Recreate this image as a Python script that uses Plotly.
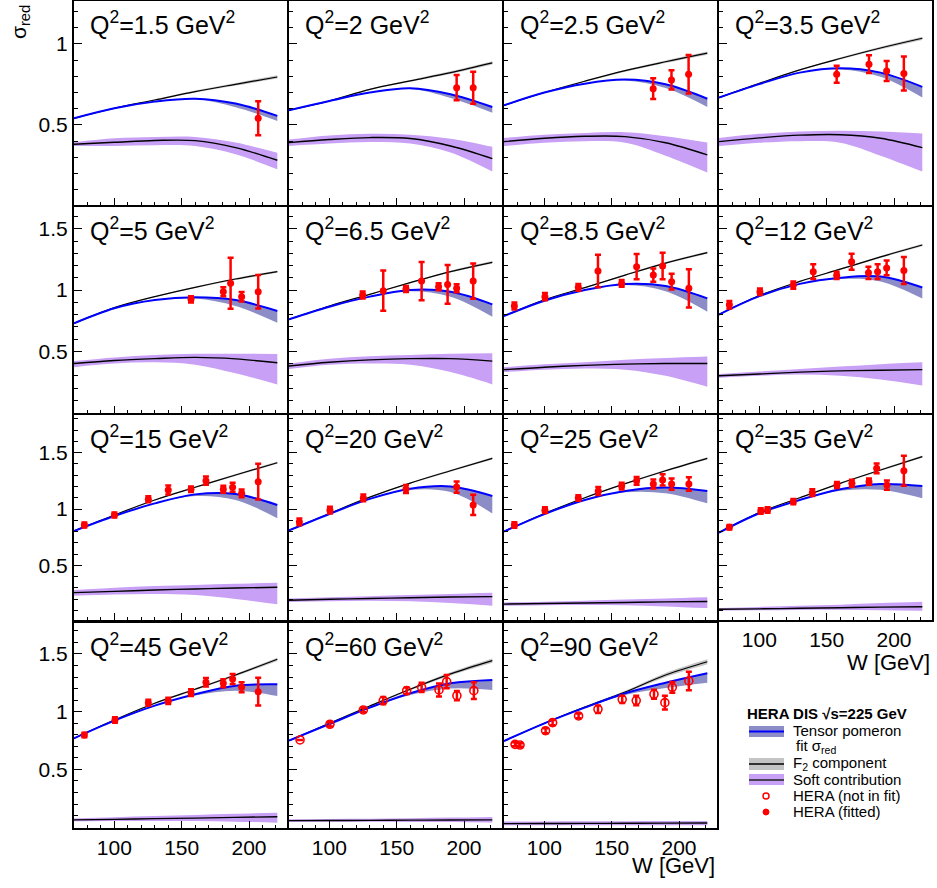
import plotly.graph_objects as go

# ---------------- data ----------------
W_NODES = [70, 100, 130, 160, 190, 221]
Q2_LABELS = ["1.5", "2", "2.5", "3.5", "5", "6.5", "8.5", "12",
             "15", "20", "25", "35", "45", "60", "90"]

# Tensor pomeron fit (blue line) and lower edge of its band
FIT = [
    [0.541, 0.603, 0.644, 0.662, 0.632, 0.556],
    [0.591, 0.648, 0.700, 0.727, 0.690, 0.611],
    [0.621, 0.700, 0.755, 0.780, 0.751, 0.662],
    [0.669, 0.752, 0.823, 0.850, 0.823, 0.735],
    [0.728, 0.851, 0.918, 0.940, 0.918, 0.829],
    [0.761, 0.864, 0.946, 1.000, 0.986, 0.883],
    [0.788, 0.913, 1.000, 1.049, 1.033, 0.932],
    [0.800, 0.950, 1.050, 1.100, 1.110, 1.020],
    [0.805, 0.938, 1.050, 1.130, 1.133, 1.036],
    [0.810, 0.956, 1.090, 1.180, 1.200, 1.115],
    [0.800, 0.955, 1.080, 1.160, 1.190, 1.160],
    [0.790, 0.962, 1.080, 1.175, 1.222, 1.204],
    [0.769, 0.922, 1.052, 1.151, 1.225, 1.237],
    [0.749, 0.893, 1.035, 1.159, 1.246, 1.275],
    [0.746, 0.899, 1.035, 1.159, 1.251, 1.333],
]
FIT_LO = [
    [0.541, 0.603, 0.643, 0.658, 0.610, 0.525],
    [0.591, 0.648, 0.699, 0.722, 0.667, 0.576],
    [0.621, 0.700, 0.754, 0.775, 0.728, 0.611],
    [0.669, 0.752, 0.822, 0.843, 0.797, 0.669],
    [0.728, 0.851, 0.916, 0.930, 0.869, 0.733],
    [0.761, 0.864, 0.944, 0.990, 0.946, 0.782],
    [0.788, 0.913, 0.998, 1.040, 0.990, 0.823],
    [0.800, 0.950, 1.048, 1.090, 1.070, 0.930],
    [0.805, 0.938, 1.048, 1.115, 1.080, 0.917],
    [0.810, 0.956, 1.088, 1.170, 1.150, 0.960],
    [0.800, 0.955, 1.078, 1.148, 1.140, 1.050],
    [0.790, 0.962, 1.078, 1.162, 1.170, 1.095],
    [0.769, 0.922, 1.050, 1.140, 1.182, 1.136],
    [0.749, 0.893, 1.032, 1.145, 1.200, 1.188],
    [0.746, 0.899, 1.032, 1.145, 1.205, 1.251],
]
# F2 component (black line) and half width of its grey band
F2 = [
    [0.541, 0.603, 0.654, 0.706, 0.751, 0.796],
    [0.591, 0.648, 0.720, 0.772, 0.823, 0.883],
    [0.621, 0.700, 0.770, 0.835, 0.890, 0.943],
    [0.669, 0.757, 0.840, 0.910, 0.975, 1.035],
    [0.728, 0.856, 0.946, 1.022, 1.090, 1.150],
    [0.761, 0.870, 0.965, 1.060, 1.150, 1.226],
    [0.788, 0.920, 1.019, 1.122, 1.220, 1.305],
    [0.800, 0.955, 1.070, 1.170, 1.270, 1.367],
    [0.805, 0.947, 1.080, 1.193, 1.302, 1.411],
    [0.810, 0.960, 1.105, 1.230, 1.340, 1.450],
    [0.800, 0.960, 1.100, 1.225, 1.340, 1.450],
    [0.790, 0.968, 1.100, 1.228, 1.346, 1.465],
    [0.769, 0.928, 1.073, 1.194, 1.318, 1.454],
    [0.749, 0.899, 1.049, 1.194, 1.327, 1.442],
    [0.746, 0.900, 1.040, 1.170, 1.318, 1.433],
]
F2_HW = [[0.002, 0.003, 0.004, 0.006, 0.008, 0.010]] * 12 + [
    [0.002, 0.004, 0.006, 0.008, 0.011, 0.014],
    [0.003, 0.005, 0.007, 0.010, 0.014, 0.018],
    [0.003, 0.005, 0.008, 0.012, 0.018, 0.022],
]
# Soft contribution (black line) with its purple band
SOFT = [
    [0.381, 0.393, 0.404, 0.403, 0.360, 0.282],
    [0.391, 0.410, 0.422, 0.416, 0.370, 0.292],
    [0.397, 0.418, 0.430, 0.428, 0.390, 0.315],
    [0.397, 0.420, 0.437, 0.440, 0.418, 0.360],
    [0.400, 0.425, 0.440, 0.450, 0.438, 0.406],
    [0.380, 0.410, 0.430, 0.440, 0.440, 0.420],
    [0.350, 0.370, 0.385, 0.395, 0.400, 0.400],
    [0.300, 0.315, 0.330, 0.340, 0.345, 0.350],
    [0.257, 0.268, 0.280, 0.290, 0.298, 0.305],
    [0.190, 0.198, 0.205, 0.212, 0.218, 0.222],
    [0.155, 0.160, 0.165, 0.170, 0.175, 0.178],
    [0.109, 0.113, 0.118, 0.123, 0.128, 0.132],
    [0.062, 0.067, 0.073, 0.078, 0.084, 0.090],
    [0.056, 0.057, 0.058, 0.060, 0.061, 0.062],
    [0.030, 0.031, 0.032, 0.033, 0.034, 0.035],
]
SOFT_LO = [
    [0.370, 0.370, 0.375, 0.370, 0.319, 0.226],
    [0.370, 0.385, 0.395, 0.385, 0.330, 0.212],
    [0.370, 0.390, 0.400, 0.390, 0.310, 0.206],
    [0.370, 0.390, 0.400, 0.390, 0.310, 0.212],
    [0.370, 0.400, 0.410, 0.390, 0.320, 0.230],
    [0.355, 0.390, 0.400, 0.390, 0.330, 0.230],
    [0.330, 0.350, 0.360, 0.350, 0.300, 0.210],
    [0.285, 0.300, 0.310, 0.300, 0.270, 0.220],
    [0.230, 0.240, 0.245, 0.235, 0.200, 0.153],
    [0.175, 0.180, 0.185, 0.180, 0.165, 0.140],
    [0.140, 0.145, 0.148, 0.145, 0.135, 0.120],
    [0.098, 0.100, 0.103, 0.105, 0.100, 0.097],
    [0.050, 0.052, 0.053, 0.052, 0.047, 0.038],
    [0.045, 0.046, 0.046, 0.045, 0.043, 0.040],
    [0.015, 0.016, 0.016, 0.016, 0.016, 0.016],
]
SOFT_HI = [
    [0.394, 0.418, 0.426, 0.426, 0.391, 0.329],
    [0.410, 0.435, 0.445, 0.440, 0.415, 0.365],
    [0.420, 0.440, 0.450, 0.455, 0.430, 0.391],
    [0.420, 0.445, 0.460, 0.465, 0.460, 0.447],
    [0.420, 0.450, 0.470, 0.480, 0.480, 0.478],
    [0.400, 0.440, 0.460, 0.470, 0.480, 0.484],
    [0.370, 0.395, 0.410, 0.430, 0.445, 0.457],
    [0.315, 0.335, 0.355, 0.375, 0.395, 0.410],
    [0.280, 0.300, 0.315, 0.325, 0.335, 0.345],
    [0.205, 0.215, 0.225, 0.235, 0.245, 0.255],
    [0.170, 0.177, 0.185, 0.195, 0.205, 0.215],
    [0.120, 0.130, 0.140, 0.150, 0.165, 0.177],
    [0.075, 0.085, 0.095, 0.105, 0.115, 0.125],
    [0.067, 0.070, 0.072, 0.076, 0.082, 0.088],
    [0.048, 0.049, 0.050, 0.051, 0.052, 0.053],
]
# HERA measurements
DATA_W = [
    [206.8],
    [194.5, 206.8],
    [180.8, 194.4, 207.1],
    [157.4, 181.4, 194.5, 207.3],
    [156.9, 180.9, 186.3, 194.5, 206.8],
    [124.7, 140.0, 156.9, 168.5, 181.1, 187.8, 194.5, 206.8],
    [77.7, 100.4, 125.2, 139.8, 157.4, 168.5, 180.9, 187.8, 194.5, 207.3],
    [77.7, 100.4, 125.2, 140.0, 157.4, 168.5, 181.0, 187.8, 194.5, 207.3],
    [77.7, 100.0, 125.2, 140.0, 156.9, 168.0, 180.9, 187.8, 194.5, 206.8],
    [77.7, 100.4, 125.2, 156.9, 194.5, 206.8],
    [77.7, 100.4, 125.2, 140.0, 157.4, 168.5, 180.9, 187.8, 194.5, 207.3],
    [77.7, 101.0, 106.1, 125.2, 139.3, 157.6, 168.7, 181.4, 187.1, 194.7, 207.3],
    [77.7, 100.4, 125.2, 140.0, 156.9, 168.0, 180.9, 187.8, 194.5, 206.8],
    [78.2, 100.4, 125.2, 140.0, 157.4, 168.5, 181.4, 187.1, 194.7, 207.3],
    [78.2, 81.9, 100.9, 106.1, 125.4, 139.8, 157.8, 168.2, 181.4, 189.5, 195.0, 207.3],
]
DATA_S = [
    [0.541],
    [0.730, 0.730],
    [0.724, 0.778, 0.813],
    [0.813, 0.875, 0.833, 0.817],
    [0.924, 0.986, 1.055, 0.945, 0.986],
    [0.959, 0.995, 1.008, 1.073, 1.027, 1.046, 1.014, 1.073],
    [0.870, 0.946, 1.022, 1.155, 1.054, 1.190, 1.122, 1.196, 1.068, 1.014],
    [0.880, 0.986, 1.040, 1.150, 1.120, 1.230, 1.140, 1.150, 1.180, 1.160],
    [0.858, 0.947, 1.086, 1.169, 1.175, 1.252, 1.175, 1.193, 1.139, 1.243],
    [0.885, 0.990, 1.098, 1.178, 1.195, 1.036],
    [0.858, 0.990, 1.098, 1.160, 1.204, 1.250, 1.222, 1.258, 1.222, 1.222],
    [0.837, 0.982, 0.991, 1.065, 1.145, 1.213, 1.228, 1.243, 1.361, 1.213, 1.340],
    [0.798, 0.928, 1.078, 1.093, 1.165, 1.255, 1.246, 1.283, 1.211, 1.173],
    [0.755, 0.891, 1.015, 1.096, 1.182, 1.211, 1.188, 1.260, 1.139, 1.182],
    [0.717, 0.711, 0.835, 0.905, 0.963, 1.021, 1.107, 1.096, 1.151, 1.078, 1.211, 1.266],
]
DATA_E = [
    [0.105],
    [0.078, 0.099],
    [0.064, 0.059, 0.119],
    [0.053, 0.055, 0.062, 0.105],
    [0.025, 0.036, 0.208, 0.038, 0.136],
    [0.029, 0.164, 0.025, 0.156, 0.029, 0.159, 0.033, 0.144],
    [0.029, 0.029, 0.027, 0.132, 0.027, 0.103, 0.054, 0.109, 0.064, 0.156],
    [0.030, 0.027, 0.030, 0.060, 0.030, 0.065, 0.050, 0.060, 0.060, 0.110],
    [0.023, 0.023, 0.027, 0.040, 0.025, 0.036, 0.031, 0.040, 0.034, 0.158],
    [0.030, 0.030, 0.030, 0.035, 0.050, 0.090],
    [0.025, 0.025, 0.025, 0.035, 0.030, 0.035, 0.040, 0.050, 0.050, 0.060],
    [0.020, 0.024, 0.024, 0.023, 0.030, 0.027, 0.031, 0.028, 0.043, 0.041, 0.133],
    [0.020, 0.023, 0.026, 0.027, 0.030, 0.037, 0.034, 0.043, 0.043, 0.120],
    [0.000, 0.019, 0.019, 0.032, 0.028, 0.040, 0.056, 0.058, 0.041, 0.072],
    [0.017, 0.015, 0.022, 0.022, 0.021, 0.032, 0.031, 0.041, 0.040, 0.060, 0.046, 0.081],
]
IN_FIT = [True, True, True, True, True, True, True, True,
          True, True, True, True, True, False, False]

X_TICKS = [100, 150, 200]
Y_TICKS_ROW = [[0.5, 1], [0.5, 1, 1.5], [0.5, 1, 1.5], [0.5, 1, 1.5]]

# ---------------- style / layout ----------------
FW, FH = 937, 888
COL_LEFT = [74, 289, 504, 719]
PANEL_W = 213
ROW_TOP = [1, 207.3, 415, 622.7]
ROW_BOT = [205, 413.3, 620, 828]
Y_RANGE_ROW = [[0.006, 1.265], [-0.006, 1.675], [0.014, 1.835], [-0.008, 1.771]]
X_RANGE = [70, 228.2]

FONT = "Liberation Sans, Arial, Helvetica, sans-serif"
BLUE = "#0000ff"
BLUE_BAND = "#8c8dc6"
PURPLE_BAND = "#c8a0f5"
GREY_BAND = "#c4c4c4"
RED = "#ff0000"


def px_x(x):
    return x / FW


def px_y(y):
    return 1 - y / FH


fig = go.Figure()
layout_axes = {}

for i in range(15):
    r, c = divmod(i, 4)
    suf = "" if i == 0 else str(i + 1)
    xa, ya = "x" + suf, "y" + suf
    common = dict(xaxis=xa, yaxis=ya, showlegend=False, hoverinfo="skip")

    # soft band + line
    fig.add_trace(go.Scatter(x=W_NODES, y=SOFT_LO[i], mode="lines",
                             line=dict(width=0, shape="spline"), **common))
    fig.add_trace(go.Scatter(x=W_NODES, y=SOFT_HI[i], mode="lines",
                             line=dict(width=0, shape="spline"), fill="tonexty",
                             fillcolor=PURPLE_BAND, **common))
    fig.add_trace(go.Scatter(x=W_NODES, y=SOFT[i], mode="lines",
                             line=dict(width=1.4, color="black", shape="spline"), **common))

    # F2 band + line
    f2_lo = [f - h for f, h in zip(F2[i], F2_HW[i])]
    f2_hi = [f + h for f, h in zip(F2[i], F2_HW[i])]
    fig.add_trace(go.Scatter(x=W_NODES, y=f2_lo, mode="lines",
                             line=dict(width=0, shape="spline"), **common))
    fig.add_trace(go.Scatter(x=W_NODES, y=f2_hi, mode="lines",
                             line=dict(width=0, shape="spline"), fill="tonexty",
                             fillcolor=GREY_BAND, **common))
    fig.add_trace(go.Scatter(x=W_NODES, y=F2[i], mode="lines",
                             line=dict(width=1.2, color="black", shape="spline"), **common))

    # fit band + line
    fig.add_trace(go.Scatter(x=W_NODES, y=FIT_LO[i], mode="lines",
                             line=dict(width=0, shape="spline"), **common))
    fig.add_trace(go.Scatter(x=W_NODES, y=FIT[i], mode="lines",
                             line=dict(width=0, shape="spline"), fill="tonexty",
                             fillcolor=BLUE_BAND, **common))
    fig.add_trace(go.Scatter(x=W_NODES, y=FIT[i], mode="lines",
                             line=dict(width=2, color=BLUE, shape="spline"), **common))

    # data
    if IN_FIT[i]:
        marker = dict(symbol="circle", size=7, color=RED)
    else:
        marker = dict(symbol="circle-open", size=8, color=RED, line=dict(width=1.6, color=RED))
    fig.add_trace(go.Scatter(x=DATA_W[i], y=DATA_S[i], mode="markers", marker=marker,
                             error_y=dict(type="data", array=DATA_E[i], color=RED,
                                          thickness=2.5, width=3),
                             **common))

    show_x = (r == 3) or (i == 11)
    layout_axes["xaxis" + suf] = dict(
        domain=[px_x(COL_LEFT[c]), px_x(COL_LEFT[c] + PANEL_W)],
        anchor=ya, range=X_RANGE, showline=True, mirror=True, automargin=False,
        linecolor="black", linewidth=2, showgrid=False, zeroline=False,
        ticks="inside", ticklen=7, tickwidth=1, tickcolor="black",
        tickvals=X_TICKS, showticklabels=show_x,
        tickfont=dict(family=FONT, size=21, color="black"),
        minor=dict(ticks="inside", ticklen=3.5, tickcolor="black", dtick=10, tick0=0,
                   showgrid=False),
        fixedrange=True,
    )
    layout_axes["yaxis" + suf] = dict(
        domain=[px_y(ROW_BOT[r]), px_y(ROW_TOP[r])],
        anchor=xa, range=Y_RANGE_ROW[r], showline=True, mirror=True, automargin=False,
        linecolor="black", linewidth=2, showgrid=False, zeroline=False,
        ticks="inside", ticklen=8, tickwidth=1, tickcolor="black",
        tickvals=Y_TICKS_ROW[r], showticklabels=(c == 0),
        tickfont=dict(family=FONT, size=21, color="black"),
        minor=dict(ticks="inside", ticklen=4, tickcolor="black", dtick=0.1, tick0=0,
                   showgrid=False),
        fixedrange=True,
    )

annotations = []
for i in range(15):
    r, c = divmod(i, 4)
    annotations.append(dict(
        x=px_x(COL_LEFT[c] + 14), y=px_y(ROW_TOP[r] + 22), xref="paper", yref="paper",
        xanchor="left", yanchor="middle", showarrow=False,
        text="Q<sup>2</sup>=" + Q2_LABELS[i] + " GeV<sup>2</sup>",
        font=dict(family=FONT, size=25, color="black")))

annotations.append(dict(x=px_x(20), y=px_y(22), xref="paper", yref="paper",
                        xanchor="center", yanchor="middle", showarrow=False, textangle=-90,
                        text="σ<sub>red</sub>", font=dict(family=FONT, size=21, color="black")))
annotations.append(dict(x=px_x(717), y=px_y(865), xref="paper", yref="paper",
                        xanchor="right", yanchor="middle", showarrow=False,
                        text="W [GeV]", font=dict(family=FONT, size=22, color="black")))
annotations.append(dict(x=px_x(932), y=px_y(662), xref="paper", yref="paper",
                        xanchor="right", yanchor="middle", showarrow=False,
                        text="W [GeV]", font=dict(family=FONT, size=22, color="black")))

# legend (drawn by hand in the empty pad)
LEG_FONT = dict(family=FONT, size=15, color="black")
annotations.append(dict(x=px_x(745), y=px_y(713), xref="paper", yref="paper",
                        xanchor="left", yanchor="middle", showarrow=False,
                        text="<b>HERA DIS √s=225 GeV</b>",
                        font=dict(family=FONT, size=15, color="black")))
leg_texts = [
    (791, 730, "Tensor pomeron"),
    (794, 746, "fit σ<sub>red</sub>"),
    (791, 763, "F<sub>2</sub> component"),
    (791, 779, "Soft contribution"),
    (791, 795, "HERA (not in fit)"),
    (791, 811, "HERA (fitted)"),
]
for x, y, t in leg_texts:
    annotations.append(dict(x=px_x(x), y=px_y(y), xref="paper", yref="paper",
                            xanchor="left", yanchor="middle", showarrow=False,
                            text=t, font=LEG_FONT))

shapes = []


def rect(y0, y1, color):
    shapes.append(dict(type="rect", xref="paper", yref="paper",
                       x0=px_x(749), x1=px_x(784), y0=px_y(y1), y1=px_y(y0),
                       fillcolor=color, line=dict(width=0)))


def hline(y, color, w):
    shapes.append(dict(type="line", xref="paper", yref="paper",
                       x0=px_x(749), x1=px_x(784), y0=px_y(y), y1=px_y(y),
                       line=dict(color=color, width=w)))


rect(726, 737, BLUE_BAND)
hline(731.5, BLUE, 2)
rect(758, 770, GREY_BAND)
hline(764, "black", 1.5)
rect(774, 785, PURPLE_BAND)
hline(780, "#222222", 1.5)
shapes.append(dict(type="circle", xref="paper", yref="paper",
                   x0=px_x(763), x1=px_x(769), y0=px_y(799), y1=px_y(793),
                   line=dict(color=RED, width=1.5), fillcolor="white"))
shapes.append(dict(type="circle", xref="paper", yref="paper",
                   x0=px_x(763), x1=px_x(769), y0=px_y(815), y1=px_y(809),
                   line=dict(color=RED, width=1), fillcolor=RED))

fig.update_layout(
    width=FW, height=FH, margin=dict(l=0, r=0, t=0, b=0, autoexpand=False),
    paper_bgcolor="white", plot_bgcolor="white", showlegend=False,
    hovermode=False, annotations=annotations, shapes=shapes,
    font=dict(family=FONT, color="black"),
    **layout_axes,
)

# the page body has a default 8px margin; remove it so the figure sits at (0, 0)
fig.write_html("out.html", config={"displayModeBar": False, "staticPlot": True},
               post_script="document.body.style.margin='0';document.body.style.overflow='hidden';")
